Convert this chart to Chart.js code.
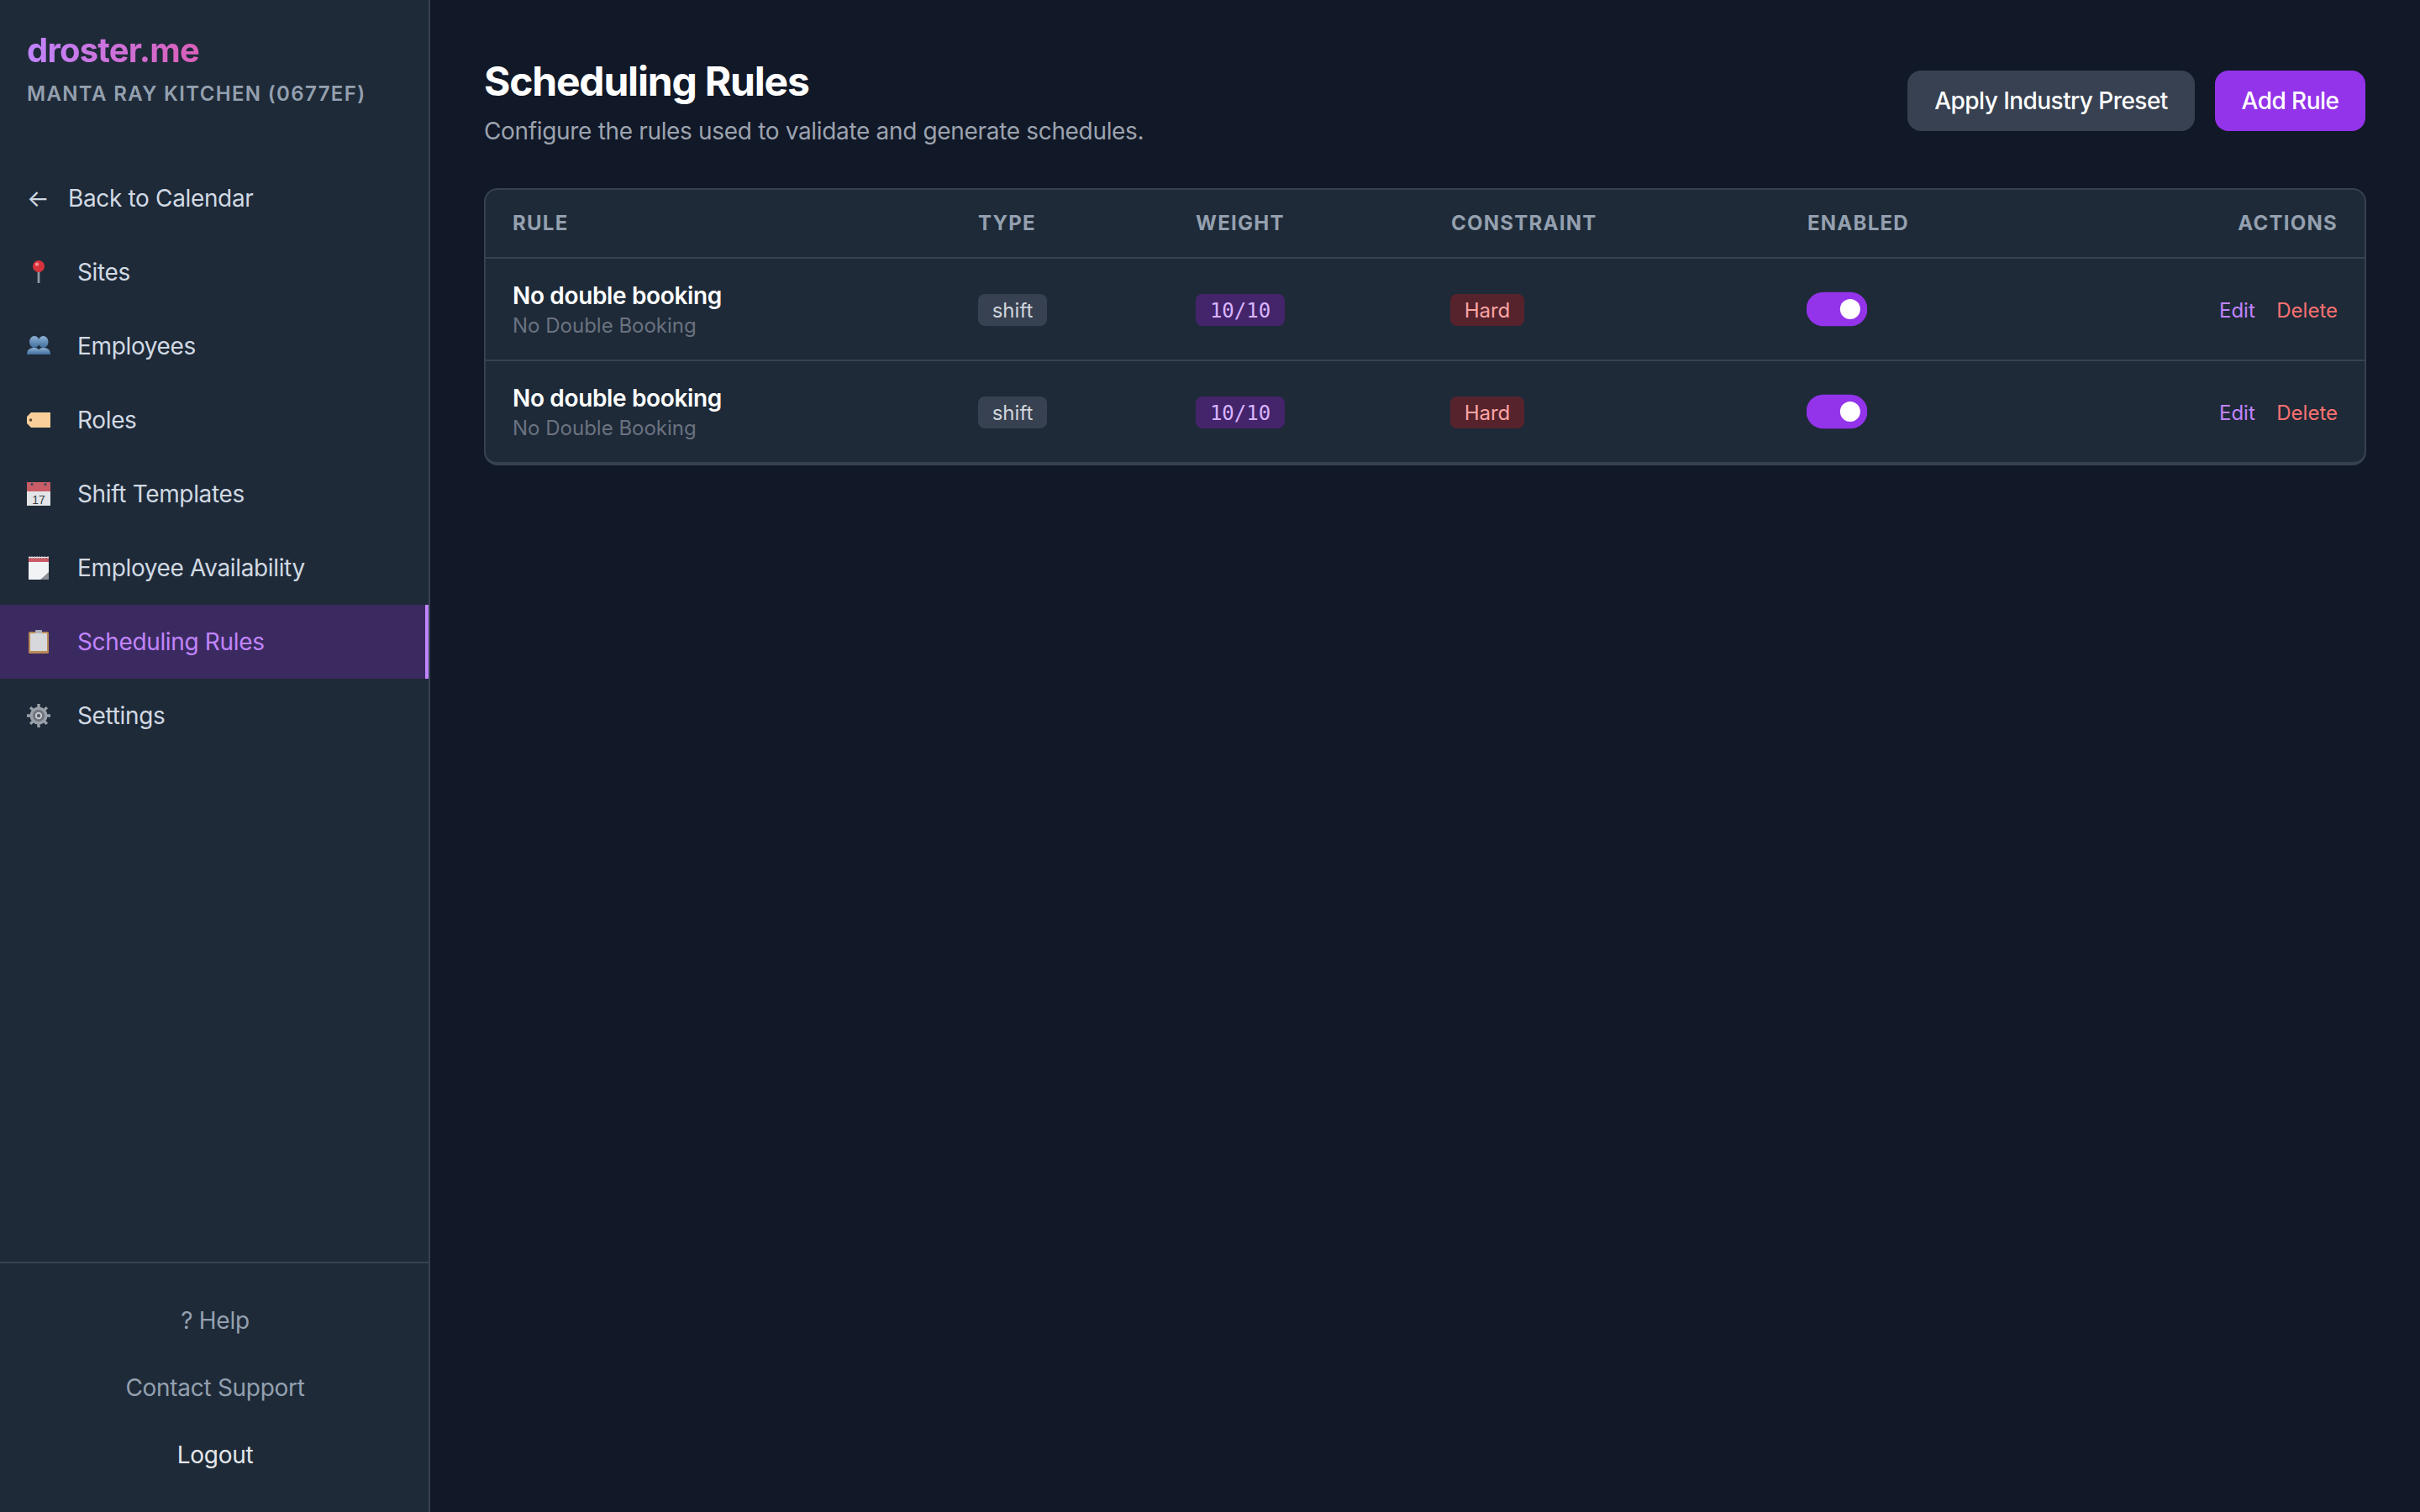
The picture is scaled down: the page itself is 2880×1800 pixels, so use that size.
<!DOCTYPE html>
<html lang="en">
<head>
<meta charset="utf-8">
<title>Scheduling Rules</title>
<script src="https://cdn.jsdelivr.net/npm/chart.js@4"></script>
<style>
*{box-sizing:border-box;margin:0;padding:0}
html,body{width:2880px;height:1800px;overflow:hidden;background:#111827;font-family:Inter,"Noto Sans",sans-serif;-webkit-font-smoothing:antialiased}
.a{position:absolute;white-space:nowrap;line-height:1}
.cy{transform:translateY(-50%)}
.cc{transform:translate(-50%,-50%)}
#side{position:absolute;left:0;top:0;width:512px;height:1800px;background:#1e2a38;border-right:2px solid #374151}
#active{position:absolute;left:0;top:720px;width:510px;height:88px;background:#3b2a5f;border-right:4px solid #c084fc}
#footline{position:absolute;left:0;top:1502px;width:510px;height:2px;background:#374151}
#logo{left:32px;top:60px;font-size:40px;font-weight:700;letter-spacing:-0.8px;background:linear-gradient(90deg,#c084fc,#db5fb9);-webkit-background-clip:text;background-clip:text;color:transparent;padding:4px 0}
#site{left:32px;top:112px;font-size:24px;font-weight:600;letter-spacing:1.35px;color:#94a0af}
.nav{font-size:28px;color:#d1d9e3;letter-spacing:-0.35px}
.foot{left:256px;font-size:28px;color:#94a0af;letter-spacing:-0.3px}
.icon{position:absolute;left:32px;width:28px;height:28px;transform:translateY(-50%);overflow:visible}
#title{left:576px;top:97px;font-size:48px;font-weight:700;letter-spacing:-1.2px;color:#fff}
#sub{left:576px;top:156px;font-size:28px;color:#9ca3af;letter-spacing:-0.33px}
.btn{position:absolute;top:84px;height:72px;border-radius:16px;color:#fff;font-size:28px;font-weight:500;display:flex;align-items:center;justify-content:center;letter-spacing:-0.55px}
#card{position:absolute;left:576px;top:224px;width:2240px;height:330px;background:#1e2a38;border:2px solid #374151;border-radius:16px;border-bottom-width:4px}
.hline{position:absolute;left:578px;width:2236px;height:2px;background:#374151}
.th{top:266px;font-size:24px;font-weight:700;letter-spacing:1.25px;color:#94a0af}
.name{left:610px;font-size:28px;font-weight:600;color:#fff;letter-spacing:-0.35px}
.desc{left:610px;font-size:24px;color:#6b7280}
.badge{position:absolute;height:38px;border-radius:8px;font-size:24px;display:flex;align-items:center;justify-content:center;transform:translateY(-50%)}
.link{font-size:24px}
#toggles{position:absolute;left:2150px;top:307px;display:block}
</style>
</head>
<body>
<div id="side"><div id="active"></div><div id="footline"></div></div>
<div id="card"></div>
<div class="hline" style="top:306px"></div>
<div class="hline" style="top:428px"></div>
<canvas id="toggles" width="72" height="244" style="width:72px;height:244px"></canvas>
<script>
const brand = "droster.me";
const siteName = "MANTA RAY KITCHEN (0677EF)";
const backLabel = "Back to Calendar";
const navLabels = ["Sites","Employees","Roles","Shift Templates","Employee Availability","Scheduling Rules","Settings"];
const footLabels = ["? Help","Contact Support","Logout"];
const pageTitle = "Scheduling Rules";
const pageSubtitle = "Configure the rules used to validate and generate schedules.";
const columns = ["RULE","TYPE","WEIGHT","CONSTRAINT","ENABLED","ACTIONS"];
const ruleNames = ["No double booking","No double booking"];
const ruleKeys = ["No Double Booking","No Double Booking"];
const ruleTypes = ["shift","shift"];
const ruleWeights = ["10/10","10/10"];
const ruleConstraints = ["Hard","Hard"];
const ruleEnabled = [1,1];

const icons = [
 '<svg viewBox="0 0 28 28"><rect x="12.6" y="11" width="2.8" height="16" fill="#8f98a3"/><circle cx="14" cy="7" r="7" fill="#d8323c"/><circle cx="12" cy="4.6" r="2.2" fill="#f58a8f"/></svg>',
 '<svg viewBox="0 0 28 28"><defs><linearGradient id="bu" x1="0" y1="0" x2="0" y2="1"><stop offset="0" stop-color="#8fb2d6"/><stop offset="1" stop-color="#3f6d9c"/></linearGradient></defs><g fill="url(#bu)"><ellipse cx="9" cy="9" rx="6" ry="7"/><path d="M0 24c0-6 4-8 9-8s6 3 6 8z"/><ellipse cx="19.500" cy="9" rx="6" ry="7"/><path d="M13 24c0-6 2-8 6.500-8s8.500 2 8.500 8z"/></g></svg>',
 '<svg viewBox="0 0 28 28"><path d="M5 5h23v18H5L0 18v-8z" fill="#f8cf9a"/><circle cx="4.500" cy="14" r="1.700" fill="#5b4630"/></svg>',
 '<svg viewBox="0 0 28 28"><rect width="28" height="28" fill="#e3e5e8"/><rect width="28" height="11" fill="#c95c66"/><circle cx="6" cy="2.500" r="1.500" fill="#33475a"/><circle cx="22" cy="2.500" r="1.500" fill="#33475a"/><text x="14" y="25.500" font-size="14" font-family="Liberation Sans" text-anchor="middle" fill="#3a3f46">17</text></svg>',
 '<svg viewBox="0 0 28 28"><rect x="2" y="1" width="24" height="27" fill="#f2f3f5"/><rect x="2" y="2" width="24" height="5" fill="#c95c66"/><path d="M16 28l10-9v9z" fill="#8d9096"/><path d="M3 0v3M6 0v3M9 0v3M12 0v3M15 0v3M18 0v3M21 0v3M25 0v3" stroke="#c9ccd1" stroke-width="1"/></svg>',
 '<svg viewBox="0 0 28 28"><rect x="2" y="2" width="24" height="26" rx="1.500" fill="#b98a58"/><rect x="4" y="4" width="20" height="21" fill="#d7d8db"/><rect x="10" y="0" width="8" height="4" rx="1" fill="#aeb2b8"/></svg>',
 '<svg viewBox="0 0 28 28"><g fill="#9aa0a8"><circle cx="14" cy="14" r="10.500"/><g stroke="#9aa0a8" stroke-width="3.400"><path d="M14 0v28M0 14h28M4.100 4.100l19.800 19.800M23.900 4.100L4.100 23.900"/></g></g><circle cx="14" cy="14" r="7" fill="#6d737c"/><circle cx="14" cy="14" r="4.200" fill="#c8ccd1"/><circle cx="14" cy="14" r="2.200" fill="#565b63"/></svg>'
];

function el(cls, text, css, parent){
  const d = document.createElement('div');
  d.className = cls; d.textContent = text;
  if (css) d.style.cssText = css;
  (parent || document.body).appendChild(d);
  return d;
}

el('a cy',brand,'').id='logo';
el('a cy',siteName,'').id='site';
el('a cy nav','←','left:32px;top:236px');
el('a cy nav',backLabel,'left:81px;top:236px');
navLabels.forEach((t,i)=>{
  const y = 324 + i*88;
  el('a cy nav',t,`left:92px;top:${y}px;${i===5?'color:#c084fc':''}`);
  const h = document.createElement('div');
  h.innerHTML = icons[i];
  const s = h.firstChild; s.setAttribute('class','icon'); s.style.top = y+'px';
  document.body.appendChild(s);
});
footLabels.forEach((t,i)=>{
  el('a cc foot',t,`top:${1572+i*80}px;${i===2?'color:#e5e7eb':''}`);
});
el('a cy',pageTitle,'').id='title';
el('a cy',pageSubtitle,'').id='sub';
el('btn','Apply Industry Preset','left:2270px;width:342px;background:#374151');
el('btn','Add Rule','left:2636px;width:179px;background:#9333ea');

const colX = [610,1164,1423,1727,2151];
columns.forEach((c,i)=>{
  if (i<5) el('a cy th',c,`left:${colX[i]}px`);
  else el('a cy th',c,'right:98px');
});
ruleNames.forEach((n,i)=>{
  const dy = i*122;
  el('a cy name',n,`top:${352+dy}px`);
  el('a cy desc',ruleKeys[i],`top:${388+dy}px`);
  el('badge',ruleTypes[i],`left:1164px;width:82px;top:${369+dy}px;background:#374151;color:#d1d5db`);
  el('badge',ruleWeights[i],`left:1423px;width:106px;top:${369+dy}px;background:#44246b;color:#d8b4fe;font-family:"DejaVu Sans Mono",monospace;padding-top:2px`);
  el('badge',ruleConstraints[i],`left:1726px;width:88px;top:${369+dy}px;background:#56232c;color:#fca5a5`);
  el('a cy link','Edit',`left:2641px;top:${370+dy}px;color:#c084fc`);
  el('a cy link','Delete',`right:98px;top:${370+dy}px;color:#f87171`);
});

new Chart(document.getElementById('toggles'),{
  data:{
    labels:ruleNames.map((n,i)=>'rule'+i),
    datasets:[
      {type:'scatter',order:0,data:ruleEnabled.map((v,i)=>({x:v?0.72:0.28,y:'rule'+i})),
       pointRadius:12,pointHoverRadius:12,backgroundColor:'#ffffff',borderWidth:0},
      {type:'bar',order:1,data:ruleEnabled.map(v=>v?[0,1]:[0,0]),
       backgroundColor:'#9333ea',barThickness:40,borderRadius:20,borderSkipped:false,borderWidth:0}
    ]
  },
  options:{
    indexAxis:'y',responsive:false,animation:false,devicePixelRatio:1,
    layout:{padding:0,autoPadding:false},
    plugins:{legend:{display:false},tooltip:{enabled:false},title:{display:false}},
    scales:{
      x:{type:'linear',min:0,max:1,display:false},
      y:{type:'category',display:false,offset:true}
    }
  }
});
</script>
</body>
</html>
